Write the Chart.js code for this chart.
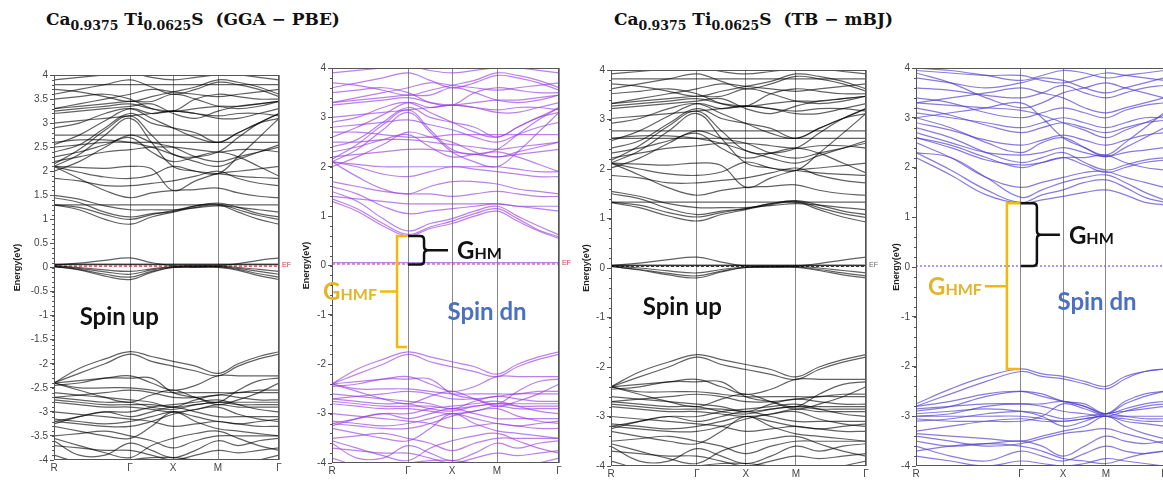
<!DOCTYPE html>
<html>
<head>
<meta charset="utf-8">
<script src="https://cdn.jsdelivr.net/npm/chart.js@4.4.0/dist/chart.umd.min.js"></script>
<style>
  html, body { margin: 0; padding: 0; background: #fff; width: 1163px; height: 480px; overflow: hidden; position: relative; }
  .ttl { position: absolute; top: 9px; font-family: "DejaVu Serif", serif; font-weight: bold; font-size: 17px; color: #111; white-space: nowrap; line-height: 20px; }
  .ttl sub { font-size: 12.5px; line-height: 0; vertical-align: -5px; }
  canvas { position: absolute; }
</style>
</head>
<body>
<div class="ttl" style="left:46px">Ca<sub>0.9375</sub> Ti<sub>0.0625</sub>S&nbsp; (GGA − PBE)</div>
<div class="ttl" style="left:614px">Ca<sub>0.9375</sub> Ti<sub>0.0625</sub>S&nbsp; (TB − mBJ)</div>
<canvas id="p1"></canvas>
<canvas id="p2"></canvas>
<canvas id="p3"></canvas>
<canvas id="p4"></canvas>
<script>
// k-path labels and sample positions along the path (segment index + fraction)
const kLabels = ['R', 'Γ', 'X', 'M', 'Γ'];
const kPath = [0, 0.33, 0.67, 1, 1.5, 2, 2.5, 3, 3.33, 3.67, 4];

// relative position of the high-symmetry points in every panel
const ggaUpTicks = [0, 0.338, 0.529, 0.729, 1];
const ggaDnTicks = [0, 0.335, 0.529, 0.727, 1];
const mbjUpTicks = [0, 0.337, 0.529, 0.725, 1];
const mbjDnTicks = [0, 0.423, 0.593, 0.766, 1];

// band energies (eV) at the kPath points
const ggaUpBands = [
  [1.30,1.20,1.00,0.90,1.05,1.15,1.25,1.30,1.15,1.00,0.90],
  [1.30,1.25,1.10,1.00,1.10,1.18,1.28,1.32,1.20,1.08,1.00],
  [1.45,1.35,1.15,1.05,1.12,1.16,1.28,1.34,1.25,1.12,1.05],
  [1.50,1.42,1.28,1.20,1.20,1.20,1.24,1.28,1.25,1.20,1.15],
  [1.30,1.30,1.30,1.30,1.30,1.30,1.30,1.30,1.30,1.30,1.30],
  [2.10,1.85,1.60,1.45,1.55,1.60,1.62,1.65,1.55,1.48,1.45],
  [2.10,1.98,1.88,1.85,1.92,2.10,2.00,1.95,1.90,1.87,1.85],
  [2.10,2.08,2.06,2.10,2.05,1.60,1.80,1.95,2.00,2.05,2.10],
  [2.10,2.35,2.75,3.10,2.60,2.10,2.00,1.95,2.30,2.70,3.10],
  [2.15,2.45,2.85,3.15,2.75,2.35,2.30,2.40,2.70,3.00,3.20],
  [2.50,2.55,2.60,2.60,2.60,2.60,2.60,2.60,2.60,2.60,2.60],
  [2.75,2.75,2.75,2.75,2.75,2.75,2.75,2.75,2.75,2.75,2.75],
  [2.30,2.40,2.55,2.70,2.40,2.20,2.30,2.40,2.30,2.10,1.90],
  [2.40,2.55,2.90,3.20,3.00,2.90,2.80,2.60,2.80,3.00,3.20],
  [2.55,2.75,3.05,3.30,3.20,3.25,3.20,3.10,3.10,3.20,3.30],
  [3.25,3.30,3.35,3.40,3.30,3.25,3.30,3.35,3.35,3.40,3.45],
  [3.30,3.35,3.40,3.45,3.45,3.60,3.50,3.35,3.30,3.35,3.45],
  [3.50,3.55,3.60,3.50,3.30,3.25,3.50,3.60,3.55,3.50,3.50],
  [3.60,3.70,3.80,3.90,3.75,3.60,3.70,3.85,3.80,3.70,3.55],
  [3.80,3.80,3.80,3.80,3.80,3.80,3.80,3.80,3.80,3.80,3.80],
  [3.90,3.95,4.00,4.05,3.95,3.90,3.95,4.00,4.00,3.95,3.90],
  [2.00,2.20,2.50,2.75,2.60,2.50,2.30,2.20,2.30,2.40,2.50],
  [2.90,3.00,3.20,3.30,3.10,2.90,2.70,2.60,2.80,3.00,3.10],
  [3.00,3.05,3.10,3.15,3.20,3.25,3.20,3.15,3.20,3.20,3.15],
  [3.30,3.40,3.50,3.60,3.70,3.65,3.60,3.55,3.60,3.65,3.70],
  [2.20,2.30,2.40,2.45,2.50,2.50,2.45,2.40,2.45,2.45,2.40],
  [3.20,3.25,3.30,3.35,3.40,3.20,3.10,3.25,3.35,3.40,3.45],
  [3.70,3.65,3.55,3.45,3.55,3.65,3.75,3.90,3.85,3.75,3.60],
  [1.85,1.80,1.70,1.70,1.75,1.80,1.90,2.00,1.85,1.75,1.70],
  [2.60,2.65,2.65,2.60,2.50,2.35,2.20,2.10,2.25,2.40,2.55],
  [0.06,0.06,0.06,0.06,0.06,0.06,0.06,0.06,0.06,0.06,0.06],
  [0.07,0.07,0.07,0.07,0.07,0.07,0.07,0.07,0.07,0.07,0.07],
  [0.05,0.09,0.15,0.20,0.10,0.04,0.04,0.04,0.08,0.15,0.20],
  [0.02,-0.05,-0.18,-0.25,-0.10,0.00,0.00,0.00,-0.06,-0.17,-0.25],
  [0.02,-0.04,-0.14,-0.20,-0.08,0.00,0.01,0.01,-0.04,-0.13,-0.20],
  [0.03,-0.02,-0.09,-0.14,-0.05,0.01,0.02,0.02,-0.02,-0.08,-0.14],
  [0.04,0.00,-0.05,-0.08,-0.03,0.02,0.03,0.03,0.00,-0.04,-0.08],
  [-2.40,-2.10,-1.90,-1.75,-1.85,-1.95,-2.05,-2.20,-2.00,-1.85,-1.75],
  [-2.40,-2.20,-2.00,-1.80,-1.95,-2.05,-2.15,-2.25,-2.05,-1.90,-1.80],
  [-2.40,-2.35,-2.30,-2.25,-2.40,-2.55,-2.45,-2.25,-2.25,-2.25,-2.25],
  [-2.45,-2.40,-2.30,-2.30,-2.30,-2.60,-2.70,-2.80,-2.55,-2.35,-2.30],
  [-2.40,-2.50,-2.50,-2.50,-2.55,-2.60,-2.60,-2.60,-2.60,-2.55,-2.55],
  [-2.70,-2.65,-2.60,-2.55,-2.60,-2.70,-2.70,-2.65,-2.60,-2.60,-2.60],
  [-2.70,-2.75,-2.80,-2.80,-2.90,-2.95,-2.85,-2.80,-2.80,-2.80,-2.80],
  [-2.75,-2.80,-2.85,-2.85,-2.85,-2.90,-2.85,-2.80,-2.85,-2.85,-2.85],
  [-2.80,-2.85,-2.90,-2.90,-2.95,-3.00,-2.95,-2.85,-2.90,-2.90,-2.90],
  [-3.20,-3.10,-3.00,-3.00,-2.90,-2.85,-2.80,-2.75,-2.85,-2.95,-3.00],
  [-3.20,-3.25,-3.30,-3.30,-3.20,-3.05,-2.95,-2.90,-3.05,-3.15,-3.20],
  [-3.25,-3.10,-3.00,-3.10,-3.00,-2.90,-3.00,-3.10,-3.10,-3.10,-3.10],
  [-3.50,-3.45,-3.40,-3.50,-3.60,-3.75,-3.60,-3.50,-3.50,-3.50,-3.50],
  [-3.60,-3.90,-3.90,-3.65,-3.80,-3.95,-3.80,-3.60,-3.70,-3.60,-3.55],
  [-3.70,-3.75,-3.80,-3.80,-3.90,-4.00,-3.90,-3.80,-3.85,-3.80,-3.75],
  [-3.30,-3.40,-3.50,-3.55,-3.30,-3.00,-3.20,-3.35,-3.40,-3.45,-3.50],
  [-2.60,-2.65,-2.70,-2.75,-2.80,-2.90,-2.75,-2.65,-2.70,-2.75,-2.75],
  [-3.90,-4.05,-4.10,-4.00,-3.95,-3.95,-4.00,-4.05,-4.10,-4.00,-3.90],
  [-3.00,-3.05,-3.10,-3.15,-3.20,-3.30,-3.25,-3.20,-3.25,-3.20,-3.15],
  [-2.40,-2.55,-2.70,-2.80,-2.65,-2.55,-2.70,-2.85,-2.75,-2.60,-2.40],
  [-3.55,-3.70,-3.85,-3.95,-3.70,-3.55,-3.45,-3.40,-3.55,-3.70,-3.80],
  [-3.15,-3.20,-3.25,-3.20,-3.10,-3.00,-3.10,-3.20,-3.25,-3.30,-3.30]
];

const ggaDnBands = [
  [1.30,1.10,0.80,0.60,0.75,0.85,1.00,1.10,0.90,0.70,0.55],
  [1.35,1.15,0.85,0.63,0.78,0.90,1.05,1.15,0.95,0.72,0.58],
  [1.50,1.30,0.95,0.70,0.85,0.95,1.10,1.20,1.00,0.80,0.62],
  [1.60,1.45,1.20,1.05,1.10,1.15,1.20,1.25,1.20,1.15,1.10],
  [1.40,1.35,1.30,1.25,1.25,1.25,1.25,1.25,1.20,1.20,1.20],
  [2.10,1.80,1.55,1.45,1.60,1.70,1.70,1.65,1.55,1.50,1.45],
  [2.10,2.00,1.85,1.80,1.90,2.00,1.95,1.90,1.85,1.80,1.80],
  [2.10,2.05,2.00,2.00,2.00,2.00,2.00,2.00,1.95,1.90,1.90],
  [2.10,2.35,2.75,3.10,2.70,2.30,2.10,2.00,2.30,2.70,3.10],
  [2.15,2.45,2.85,3.15,2.75,2.35,2.25,2.35,2.65,2.95,3.20],
  [2.50,2.50,2.55,2.55,2.50,2.45,2.40,2.35,2.40,2.45,2.50],
  [2.70,2.70,2.65,2.60,2.60,2.65,2.65,2.65,2.65,2.65,2.65],
  [2.30,2.40,2.55,2.65,2.40,2.20,2.25,2.30,2.20,2.05,1.90],
  [2.40,2.55,2.90,3.20,3.00,2.90,2.80,2.60,2.80,3.00,3.20],
  [2.60,2.80,3.05,3.30,3.20,3.25,3.20,3.10,3.10,3.20,3.30],
  [3.25,3.30,3.35,3.40,3.30,3.25,3.30,3.35,3.35,3.40,3.45],
  [3.30,3.35,3.40,3.45,3.45,3.60,3.50,3.35,3.30,3.35,3.45],
  [3.50,3.55,3.60,3.50,3.30,3.25,3.50,3.60,3.55,3.50,3.50],
  [3.60,3.70,3.80,3.90,3.75,3.60,3.70,3.85,3.80,3.70,3.55],
  [3.90,3.95,4.00,4.05,3.95,3.90,3.95,4.00,4.00,3.95,3.90],
  [2.00,2.20,2.45,2.70,2.60,2.50,2.30,2.20,2.30,2.40,2.50],
  [2.90,3.00,3.20,3.30,3.10,2.90,2.70,2.60,2.80,3.00,3.10],
  [3.00,3.05,3.10,3.15,3.20,3.25,3.20,3.15,3.20,3.20,3.15],
  [3.30,3.40,3.50,3.60,3.70,3.65,3.60,3.55,3.60,3.65,3.70],
  [2.20,2.25,2.30,2.35,2.35,2.30,2.25,2.20,2.25,2.30,2.35],
  [3.70,3.65,3.55,3.45,3.55,3.65,3.75,3.90,3.85,3.75,3.60],
  [1.70,1.60,1.50,1.45,1.45,1.40,1.45,1.50,1.45,1.40,1.40],
  [2.80,2.85,2.90,2.95,2.85,2.75,2.60,2.50,2.65,2.80,2.90],
  [0.06,0.06,0.06,0.06,0.06,0.06,0.06,0.06,0.06,0.06,0.06],
  [-2.40,-2.10,-1.90,-1.75,-1.85,-1.95,-2.05,-2.20,-2.00,-1.85,-1.75],
  [-2.40,-2.20,-2.00,-1.80,-1.95,-2.05,-2.15,-2.25,-2.05,-1.90,-1.80],
  [-2.40,-2.35,-2.30,-2.25,-2.40,-2.55,-2.45,-2.25,-2.25,-2.25,-2.25],
  [-2.45,-2.40,-2.30,-2.30,-2.30,-2.60,-2.70,-2.80,-2.55,-2.35,-2.30],
  [-2.40,-2.50,-2.50,-2.50,-2.55,-2.60,-2.60,-2.60,-2.60,-2.55,-2.55],
  [-2.70,-2.65,-2.60,-2.55,-2.60,-2.70,-2.70,-2.65,-2.60,-2.60,-2.60],
  [-2.70,-2.75,-2.80,-2.80,-2.90,-2.95,-2.85,-2.80,-2.80,-2.80,-2.80],
  [-2.75,-2.80,-2.85,-2.85,-2.85,-2.90,-2.85,-2.80,-2.85,-2.85,-2.85],
  [-2.80,-2.85,-2.90,-2.90,-2.95,-3.00,-2.95,-2.85,-2.90,-2.90,-2.90],
  [-3.20,-3.10,-3.00,-3.00,-2.90,-2.85,-2.80,-2.75,-2.85,-2.95,-3.00],
  [-3.20,-3.25,-3.30,-3.30,-3.20,-3.05,-2.95,-2.90,-3.05,-3.15,-3.20],
  [-3.25,-3.10,-3.00,-3.10,-3.00,-2.90,-3.00,-3.10,-3.10,-3.10,-3.10],
  [-3.50,-3.45,-3.40,-3.50,-3.60,-3.75,-3.60,-3.50,-3.50,-3.50,-3.50],
  [-3.60,-3.90,-3.90,-3.65,-3.80,-3.95,-3.80,-3.60,-3.70,-3.60,-3.55],
  [-3.70,-3.75,-3.80,-3.80,-3.90,-4.00,-3.90,-3.80,-3.85,-3.80,-3.75],
  [-3.30,-3.40,-3.50,-3.55,-3.30,-3.00,-3.20,-3.35,-3.40,-3.45,-3.50],
  [-2.60,-2.65,-2.70,-2.75,-2.80,-2.90,-2.75,-2.65,-2.70,-2.75,-2.75],
  [-3.90,-4.05,-4.10,-4.00,-3.95,-3.95,-4.00,-4.05,-4.10,-4.00,-3.90],
  [-3.00,-3.05,-3.10,-3.15,-3.20,-3.30,-3.25,-3.20,-3.25,-3.20,-3.15],
  [-2.40,-2.55,-2.70,-2.80,-2.65,-2.55,-2.70,-2.85,-2.75,-2.60,-2.40],
  [-3.55,-3.70,-3.85,-3.95,-3.70,-3.55,-3.45,-3.40,-3.55,-3.70,-3.80],
  [-3.15,-3.20,-3.25,-3.20,-3.10,-3.00,-3.10,-3.20,-3.25,-3.30,-3.30]
];

const mbjUpBands = [
  [1.32,1.22,1.05,0.95,1.08,1.18,1.28,1.33,1.18,1.03,0.93],
  [1.33,1.27,1.12,1.03,1.12,1.20,1.30,1.35,1.22,1.10,1.02],
  [1.50,1.40,1.20,1.08,1.15,1.20,1.30,1.36,1.27,1.15,1.08],
  [1.55,1.45,1.30,1.22,1.22,1.22,1.26,1.30,1.27,1.22,1.18],
  [1.33,1.33,1.33,1.33,1.33,1.33,1.33,1.33,1.33,1.33,1.33],
  [2.12,1.88,1.62,1.47,1.57,1.63,1.65,1.68,1.57,1.50,1.47],
  [2.12,2.00,1.90,1.87,1.94,2.14,2.02,1.97,1.92,1.89,1.87],
  [2.12,2.10,2.08,2.12,2.07,1.63,1.82,1.97,2.02,2.07,2.12],
  [2.12,2.37,2.77,3.12,2.62,2.12,2.02,1.97,2.32,2.72,3.12],
  [2.17,2.47,2.87,3.17,2.77,2.37,2.32,2.42,2.72,3.02,3.22],
  [2.62,2.62,2.62,2.62,2.62,2.62,2.62,2.62,2.62,2.62,2.62],
  [2.77,2.77,2.77,2.77,2.77,2.77,2.77,2.77,2.77,2.77,2.77],
  [2.32,2.42,2.57,2.72,2.42,2.22,2.32,2.42,2.32,2.12,1.92],
  [2.42,2.57,2.92,3.22,3.02,2.92,2.82,2.62,2.82,3.02,3.22],
  [2.57,2.77,3.07,3.32,3.22,3.27,3.22,3.12,3.12,3.22,3.32],
  [3.27,3.32,3.37,3.42,3.32,3.27,3.32,3.37,3.37,3.42,3.47],
  [3.32,3.37,3.42,3.47,3.47,3.62,3.52,3.37,3.32,3.37,3.47],
  [3.52,3.57,3.62,3.52,3.32,3.27,3.52,3.62,3.57,3.52,3.52],
  [3.62,3.72,3.82,3.92,3.77,3.62,3.72,3.87,3.82,3.72,3.57],
  [3.82,3.82,3.82,3.82,3.82,3.82,3.82,3.82,3.82,3.82,3.82],
  [3.92,3.97,4.02,4.07,3.97,3.92,3.97,4.02,4.02,3.97,3.92],
  [2.02,2.22,2.52,2.77,2.62,2.52,2.32,2.22,2.32,2.42,2.52],
  [2.92,3.02,3.22,3.32,3.12,2.92,2.72,2.62,2.82,3.02,3.12],
  [3.02,3.07,3.12,3.17,3.22,3.27,3.22,3.17,3.22,3.22,3.17],
  [3.32,3.42,3.52,3.62,3.72,3.67,3.62,3.57,3.62,3.67,3.72],
  [2.22,2.32,2.42,2.47,2.52,2.52,2.47,2.42,2.47,2.47,2.42],
  [3.22,3.27,3.32,3.37,3.42,3.22,3.12,3.27,3.37,3.42,3.47],
  [3.72,3.67,3.57,3.47,3.57,3.67,3.77,3.92,3.87,3.77,3.62],
  [1.87,1.82,1.72,1.72,1.77,1.82,1.92,2.02,1.87,1.77,1.72],
  [2.62,2.67,2.67,2.62,2.52,2.37,2.22,2.12,2.27,2.42,2.57],
  [0.05,0.05,0.05,0.05,0.05,0.05,0.05,0.05,0.05,0.05,0.05],
  [0.06,0.06,0.06,0.06,0.06,0.06,0.06,0.06,0.06,0.06,0.06],
  [0.05,0.10,0.17,0.22,0.12,0.04,0.04,0.04,0.09,0.16,0.22],
  [0.03,-0.04,-0.14,-0.20,-0.08,0.01,0.01,0.01,-0.05,-0.14,-0.20],
  [0.03,-0.03,-0.11,-0.16,-0.06,0.01,0.02,0.02,-0.03,-0.10,-0.16],
  [0.04,0.00,-0.06,-0.10,-0.03,0.02,0.03,0.03,0.00,-0.05,-0.10],
  [-2.40,-2.10,-1.90,-1.75,-1.85,-1.95,-2.05,-2.20,-2.00,-1.85,-1.75],
  [-2.40,-2.20,-2.00,-1.80,-1.95,-2.05,-2.15,-2.25,-2.05,-1.90,-1.80],
  [-2.40,-2.35,-2.30,-2.25,-2.40,-2.55,-2.45,-2.25,-2.25,-2.25,-2.25],
  [-2.45,-2.40,-2.30,-2.30,-2.30,-2.60,-2.70,-2.80,-2.55,-2.35,-2.30],
  [-2.40,-2.50,-2.50,-2.50,-2.55,-2.60,-2.60,-2.60,-2.60,-2.55,-2.55],
  [-2.70,-2.65,-2.60,-2.55,-2.60,-2.70,-2.70,-2.65,-2.60,-2.60,-2.60],
  [-2.70,-2.75,-2.80,-2.80,-2.90,-2.95,-2.85,-2.80,-2.80,-2.80,-2.80],
  [-2.75,-2.80,-2.85,-2.85,-2.85,-2.90,-2.85,-2.80,-2.85,-2.85,-2.85],
  [-2.80,-2.85,-2.90,-2.90,-2.95,-3.00,-2.95,-2.85,-2.90,-2.90,-2.90],
  [-3.20,-3.10,-3.00,-3.00,-2.90,-2.85,-2.80,-2.75,-2.85,-2.95,-3.00],
  [-3.20,-3.25,-3.30,-3.30,-3.20,-3.05,-2.95,-2.90,-3.05,-3.15,-3.20],
  [-3.25,-3.10,-3.00,-3.10,-3.00,-2.90,-3.00,-3.10,-3.10,-3.10,-3.10],
  [-3.50,-3.45,-3.40,-3.50,-3.60,-3.75,-3.60,-3.50,-3.50,-3.50,-3.50],
  [-3.60,-3.90,-3.90,-3.65,-3.80,-3.95,-3.80,-3.60,-3.70,-3.60,-3.55],
  [-3.70,-3.75,-3.80,-3.80,-3.90,-4.00,-3.90,-3.80,-3.85,-3.80,-3.75],
  [-3.30,-3.40,-3.50,-3.55,-3.30,-3.00,-3.20,-3.35,-3.40,-3.45,-3.50],
  [-2.60,-2.65,-2.70,-2.75,-2.80,-2.90,-2.75,-2.65,-2.70,-2.75,-2.75],
  [-3.90,-4.05,-4.10,-4.00,-3.95,-3.95,-4.00,-4.05,-4.10,-4.00,-3.90],
  [-3.00,-3.05,-3.10,-3.15,-3.20,-3.30,-3.25,-3.20,-3.25,-3.20,-3.15],
  [-2.40,-2.55,-2.70,-2.80,-2.65,-2.55,-2.70,-2.85,-2.75,-2.60,-2.40],
  [-3.55,-3.70,-3.85,-3.95,-3.70,-3.55,-3.45,-3.40,-3.55,-3.70,-3.80],
  [-3.15,-3.20,-3.25,-3.20,-3.10,-3.00,-3.10,-3.20,-3.25,-3.30,-3.30]
];

const mbjDnBands = [
  [2.20,1.85,1.45,1.28,1.35,1.42,1.50,1.55,1.45,1.30,1.25],
  [2.30,1.95,1.55,1.30,1.45,1.55,1.70,1.75,1.60,1.40,1.30],
  [2.50,2.20,1.80,1.60,1.70,1.80,1.90,1.92,1.80,1.70,1.60],
  [2.60,2.40,2.15,2.05,2.10,2.20,2.20,2.25,2.10,2.00,1.95],
  [2.70,2.50,2.30,2.25,2.30,2.40,2.30,2.22,2.30,2.35,2.40],
  [3.00,2.80,2.50,2.30,2.50,2.60,2.40,2.22,2.40,2.60,2.80],
  [3.00,3.10,3.20,3.30,3.00,2.60,2.40,2.25,2.50,2.80,3.10],
  [3.10,3.00,2.90,2.80,2.90,3.00,2.90,2.80,2.90,3.00,3.00],
  [3.30,3.40,3.50,3.60,3.50,3.40,3.20,3.10,3.20,3.30,3.40],
  [3.80,3.70,3.60,3.70,3.80,3.75,3.60,3.50,3.60,3.70,3.80],
  [3.90,3.70,3.40,3.20,3.30,3.50,3.60,3.70,3.60,3.50,3.40],
  [2.80,2.60,2.30,2.10,2.20,2.30,2.10,1.95,2.05,2.15,2.20],
  [2.90,2.75,2.55,2.45,2.55,2.65,2.55,2.45,2.55,2.65,2.70],
  [3.20,3.05,2.85,2.70,2.80,2.90,2.80,2.70,2.80,2.90,2.95],
  [3.40,3.30,3.10,3.00,3.10,3.20,3.10,3.00,3.15,3.25,3.30],
  [3.60,3.55,3.45,3.40,3.50,3.65,3.50,3.40,3.50,3.60,3.65],
  [3.95,3.90,3.85,3.85,3.75,3.70,3.80,3.90,3.85,3.80,3.75],
  [4.00,3.95,3.85,3.75,3.85,3.95,3.90,3.80,3.85,3.90,3.95],
  [3.30,3.25,3.20,3.15,3.05,2.90,2.75,2.60,2.75,2.90,3.05],
  [2.60,2.45,2.20,2.00,2.10,2.20,2.05,1.90,2.00,2.10,2.15],
  [2.30,2.20,1.80,1.40,1.55,1.70,1.80,1.85,1.70,1.50,1.35],
  [-2.75,-2.45,-2.20,-2.05,-2.15,-2.20,-2.30,-2.40,-2.20,-2.10,-2.05],
  [-2.80,-2.55,-2.30,-2.10,-2.20,-2.25,-2.35,-2.45,-2.25,-2.10,-2.05],
  [-2.80,-2.70,-2.55,-2.50,-2.60,-2.70,-2.80,-2.95,-2.70,-2.55,-2.50],
  [-2.90,-2.80,-2.60,-2.50,-2.55,-2.70,-2.75,-2.95,-2.75,-2.60,-2.50],
  [-3.00,-2.95,-2.80,-2.75,-2.80,-2.90,-2.95,-3.00,-2.90,-2.80,-2.75],
  [-3.00,-3.00,-3.00,-3.00,-3.05,-3.10,-3.05,-3.00,-3.00,-3.00,-3.00],
  [-3.05,-3.10,-3.10,-3.10,-3.00,-2.75,-2.85,-3.00,-3.05,-3.10,-3.10],
  [-3.30,-3.20,-3.10,-3.05,-3.10,-3.10,-3.05,-3.00,-3.10,-3.15,-3.20],
  [-3.35,-3.40,-3.45,-3.50,-3.40,-3.30,-3.20,-3.00,-3.20,-3.35,-3.45],
  [-3.50,-3.60,-3.55,-3.50,-3.60,-3.80,-3.60,-3.40,-3.50,-3.55,-3.50],
  [-3.60,-3.80,-3.90,-3.70,-3.80,-3.90,-3.75,-3.60,-3.70,-3.75,-3.70],
  [-3.80,-3.90,-4.00,-3.90,-3.95,-4.00,-3.95,-3.85,-3.90,-3.95,-4.00],
  [-2.85,-2.80,-2.75,-2.75,-2.75,-2.70,-2.80,-2.95,-2.85,-2.75,-2.70],
  [-3.10,-3.05,-2.95,-2.90,-2.95,-3.05,-3.00,-2.95,-3.00,-3.05,-3.05],
  [-3.40,-3.50,-3.60,-3.55,-3.45,-3.35,-3.30,-3.25,-3.35,-3.45,-3.55],
  [-2.95,-2.90,-2.85,-2.90,-3.00,-3.20,-3.10,-2.95,-2.90,-2.85,-2.80],
  [-3.70,-3.60,-3.55,-3.60,-3.70,-3.85,-3.90,-3.95,-3.85,-3.75,-3.70]
];

// Fermi level line and gap brackets (eV)
const efLevels = [0.03, 0.03, 0.03, 0.02];
const ggaGapHM = [0.02, 0.6];
const ggaGapHMF = [-1.65, 0.6];
const mbjGapHM = [0.02, 1.28];
const mbjGapHMF = [-2.05, 1.28];

const yRange = [-4, 4];

// --- helpers ---
const kToX = (ticks, s) => {
  const i = Math.min(Math.floor(s), ticks.length - 2);
  return ticks[i] + (s - i) * (ticks[i + 1] - ticks[i]);
};

const drawG = (ctx, x, y, sub, color, alignRight) => {
  ctx.font = 'bold 24px Lato';
  const w1 = ctx.measureText('G').width;
  ctx.font = 'bold 16px Lato';
  const w2 = ctx.measureText(sub).width;
  const x0 = alignRight ? x - w1 - w2 : x;
  ctx.fillStyle = color;
  ctx.textBaseline = 'alphabetic';
  ctx.textAlign = 'left';
  ctx.font = 'bold 24px Lato';
  ctx.fillText('G', x0, y + 9);
  ctx.font = 'bold 16px Lato';
  ctx.fillText(sub, x0 + w1, y + 9);
};

const decorPlugin = {
  id: 'decor',
  afterDraw(chart) {
    const o = chart.options.plugins.decor;
    const { ctx, chartArea: a } = chart;
    const xs = chart.scales.x, ys = chart.scales.y;
    ctx.save();
    // frame
    ctx.strokeStyle = '#555';
    ctx.lineWidth = 1;
    ctx.strokeRect(a.left + 0.5, a.top + 0.5, a.right - a.left - 1, a.bottom - a.top - 1);
    // minor ticks on energy axis
    const n = Math.round((yRange[1] - yRange[0]) / o.minor);
    ctx.beginPath();
    for (let i = 0; i <= n; i++) {
      const py = Math.round(ys.getPixelForValue(yRange[0] + i * o.minor)) + 0.5;
      ctx.moveTo(a.left - 2, py);
      ctx.lineTo(a.left, py);
    }
    ctx.stroke();
    // axis title
    ctx.save();
    ctx.translate(a.left - o.titleOff, (a.top + a.bottom) / 2);
    ctx.rotate(-Math.PI / 2);
    ctx.font = 'bold 9px "Liberation Sans"';
    ctx.fillStyle = '#222';
    ctx.textAlign = 'center';
    ctx.textBaseline = 'middle';
    ctx.fillText('Energy(eV)', 0, 0);
    ctx.restore();
    // EF label
    if (o.efColor) {
      ctx.font = '7px "Liberation Sans"';
      ctx.fillStyle = o.efColor;
      ctx.textAlign = 'left';
      ctx.textBaseline = 'middle';
      ctx.fillText('EF', a.right + 3, ys.getPixelForValue(o.ef) - 1);
    }
    // spin text
    ctx.font = 'bold 24px Lato';
    ctx.fillStyle = o.spin.color;
    ctx.textAlign = 'center';
    ctx.textBaseline = 'middle';
    ctx.fillText(o.spin.text, xs.getPixelForValue(o.spin.x), ys.getPixelForValue(o.spin.y));
    // gap brackets
    if (o.gaps) {
      const g = o.gaps;
      const gx = xs.getPixelForValue(o.ticks[1]);
      // half-metallic gap, black curly brace right of Γ
      let y1 = ys.getPixelForValue(g.hm[1]), y0 = ys.getPixelForValue(g.hm[0]);
      let ym = (y0 + y1) / 2, bx = gx + g.braceW;
      ctx.strokeStyle = '#111';
      ctx.lineWidth = 2.5;
      ctx.beginPath();
      ctx.moveTo(gx, y1);
      ctx.lineTo(bx - 4, y1);
      ctx.quadraticCurveTo(bx, y1, bx, y1 + 4);
      ctx.lineTo(bx, ym - 4);
      ctx.quadraticCurveTo(bx, ym, bx + 4, ym);
      ctx.quadraticCurveTo(bx, ym, bx, ym + 4);
      ctx.lineTo(bx, y0 - 4);
      ctx.quadraticCurveTo(bx, y0, bx - 4, y0);
      ctx.lineTo(gx, y0);
      ctx.moveTo(bx + 2, ym);
      ctx.lineTo(bx + g.tick, ym);
      ctx.stroke();
      drawG(ctx, bx + g.tick + g.lblGap, ym, 'HM', '#111', false);
      // half-metallic ferromagnetic gap, yellow bracket left of Γ
      y1 = ys.getPixelForValue(g.hmf[1]);
      y0 = ys.getPixelForValue(g.hmf[0]);
      ym = (y0 + y1) / 2;
      bx = gx - g.yelOff;
      ctx.strokeStyle = '#f4b80c';
      ctx.beginPath();
      ctx.moveTo(gx - 1, y1);
      ctx.lineTo(bx, y1);
      ctx.lineTo(bx, y0);
      ctx.lineTo(gx - 1, y0);
      ctx.moveTo(bx, ym);
      ctx.lineTo(bx - g.yelTick, ym);
      ctx.stroke();
      drawG(ctx, bx - g.yelTick - 3, ym, 'HMF', '#e2b52a', true);
    }
    ctx.restore();
  }
};

const makePanel = (id, geo, bands, ticks, style) => {
  const cv = document.getElementById(id);
  cv.width = geo.cw; cv.height = geo.ch;
  cv.style.left = geo.cx + 'px'; cv.style.top = geo.cy + 'px';
  const datasets = bands.map(b => ({
    data: b.map((e, i) => ({ x: kToX(ticks, kPath[i]), y: e })),
    borderColor: style.color,
    borderWidth: 1.2,
    pointRadius: 0,
    tension: 0.4,
    fill: false
  }));
  datasets.push({
    data: [{ x: 0, y: style.ef }, { x: 1, y: style.ef }],
    borderColor: style.efLine,
    borderWidth: 1.2,
    borderDash: style.efDash,
    pointRadius: 0
  });
  return new Chart(cv, {
    type: 'line',
    data: { datasets },
    options: {
      responsive: false,
      animation: false,
      events: [],
      layout: { padding: { left: 0, top: geo.T - geo.cy, right: geo.cx + geo.cw - geo.R, bottom: 0 } },
      plugins: {
        legend: { display: false },
        tooltip: { enabled: false },
        decor: style.decor
      },
      scales: {
        x: {
          type: 'linear', min: 0, max: 1,
          afterBuildTicks: s => { s.ticks = ticks.map(v => ({ value: v })); },
          afterFit: s => { s.height = geo.cy + geo.ch - geo.B; },
          ticks: {
            callback: (v, i) => kLabels[i],
            font: { size: 10, family: 'Liberation Sans' }, color: '#444', padding: 2, maxRotation: 0, autoSkip: false
          },
          grid: { color: '#888', lineWidth: 1, drawTicks: false },
          border: { display: false }
        },
        y: {
          min: yRange[0], max: yRange[1],
          afterFit: s => { s.width = geo.L - geo.cx; },
          ticks: {
            stepSize: style.step,
            callback: v => String(Math.round(v * 10) / 10),
            font: { size: 10, family: 'Liberation Sans' }, color: '#444', padding: 2
          },
          grid: { drawOnChartArea: false, tickLength: 4, color: '#555' },
          border: { display: false }
        }
      }
    },
    plugins: [decorPlugin]
  });
};

makePanel('p1', { cx: 0, cy: 60, cw: 300, ch: 420, L: 54, T: 75, R: 279, B: 460 }, ggaUpBands, ggaUpTicks, {
  color: 'rgba(0,0,0,0.62)', ef: efLevels[0], efLine: '#e0333a', efDash: [3, 2], step: 0.5,
  decor: { minor: 0.1, titleOff: 36, ef: efLevels[0], efColor: '#e0333a', ticks: ggaUpTicks,
    spin: { text: 'Spin up', color: '#111', x: 0.29, y: -1.03 } }
});

makePanel('p2', { cx: 282, cy: 60, cw: 300, ch: 420, L: 332, T: 67, R: 559, B: 463 }, ggaDnBands, ggaDnTicks, {
  color: 'rgba(150,60,225,0.65)', ef: efLevels[1], efLine: '#e0333a', efDash: [3, 2], step: 1,
  decor: { minor: 0.2, titleOff: 25, ef: efLevels[1], efColor: '#e0333a', ticks: ggaDnTicks,
    spin: { text: 'Spin dn', color: '#4a70c0', x: 0.683, y: -0.95 },
    gaps: { hm: ggaGapHM, hmf: ggaGapHMF, braceW: 16, tick: 24, lblGap: 9, yelOff: 11, yelTick: 17 } }
});

makePanel('p3', { cx: 562, cy: 60, cw: 320, ch: 420, L: 611, T: 70, R: 866, B: 466 }, mbjUpBands, mbjUpTicks, {
  color: 'rgba(0,0,0,0.62)', ef: efLevels[2], efLine: '#444', efDash: [3, 2], step: 1,
  decor: { minor: 0.2, titleOff: 24, ef: efLevels[2], efColor: '#666', ticks: mbjUpTicks,
    spin: { text: 'Spin up', color: '#111', x: 0.28, y: -0.79 } }
});

makePanel('p4', { cx: 872, cy: 60, cw: 300, ch: 420, L: 916, T: 66, R: 1164, B: 466 }, mbjDnBands, mbjDnTicks, {
  color: 'rgba(80,60,205,0.68)', ef: efLevels[3], efLine: '#7a55d8', efDash: [2, 2], step: 1,
  decor: { minor: 0.2, titleOff: 19, ef: efLevels[3], efColor: null, ticks: mbjDnTicks,
    spin: { text: 'Spin dn', color: '#4a70c0', x: 0.73, y: -0.7 },
    gaps: { hm: mbjGapHM, hmf: mbjGapHMF, braceW: 16, tick: 23, lblGap: 9, yelOff: 14, yelTick: 22 } }
});
</script>
</body>
</html>
